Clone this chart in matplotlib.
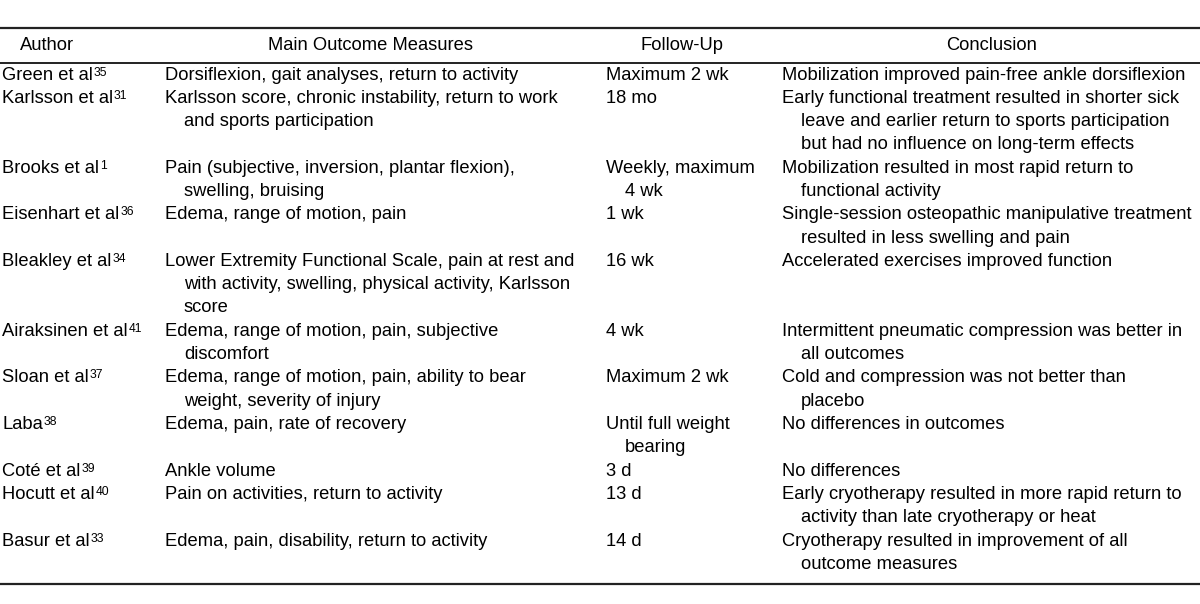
import matplotlib.pyplot as plt

plt.rcParams['font.family'] = ['Liberation Sans', 'DejaVu Sans']

# table content, wrapped lines as they appear in the reference
headers = ["Author", "Main Outcome Measures", "Follow-Up", "Conclusion"]

authors = ["Green et al", "Karlsson et al", "Brooks et al", "Eisenhart et al",
           "Bleakley et al", "Airaksinen et al", "Sloan et al", "Laba",
           "Coté et al", "Hocutt et al", "Basur et al"]
refs = ["35", "31", "1", "36", "34", "41", "37", "38", "39", "40", "33"]

outcomes = [
    ["Dorsiflexion, gait analyses, return to activity"],
    ["Karlsson score, chronic instability, return to work", "and sports participation"],
    ["Pain (subjective, inversion, plantar flexion),", "swelling, bruising"],
    ["Edema, range of motion, pain"],
    ["Lower Extremity Functional Scale, pain at rest and",
     "with activity, swelling, physical activity, Karlsson", "score"],
    ["Edema, range of motion, pain, subjective", "discomfort"],
    ["Edema, range of motion, pain, ability to bear", "weight, severity of injury"],
    ["Edema, pain, rate of recovery"],
    ["Ankle volume"],
    ["Pain on activities, return to activity"],
    ["Edema, pain, disability, return to activity"],
]

followups = [
    ["Maximum 2 wk"],
    ["18 mo"],
    ["Weekly, maximum", "4 wk"],
    ["1 wk"],
    ["16 wk"],
    ["4 wk"],
    ["Maximum 2 wk"],
    ["Until full weight", "bearing"],
    ["3 d"],
    ["13 d"],
    ["14 d"],
]

conclusions = [
    ["Mobilization improved pain-free ankle dorsiflexion"],
    ["Early functional treatment resulted in shorter sick",
     "leave and earlier return to sports participation",
     "but had no influence on long-term effects"],
    ["Mobilization resulted in most rapid return to", "functional activity"],
    ["Single-session osteopathic manipulative treatment",
     "resulted in less swelling and pain"],
    ["Accelerated exercises improved function"],
    ["Intermittent pneumatic compression was better in", "all outcomes"],
    ["Cold and compression was not better than", "placebo"],
    ["No differences in outcomes"],
    ["No differences"],
    ["Early cryotherapy resulted in more rapid return to",
     "activity than late cryotherapy or heat"],
    ["Cryotherapy resulted in improvement of all", "outcome measures"],
]

fig = plt.figure(figsize=(12, 6.04), dpi=100)
ax = fig.add_axes([0, 0, 1, 1])
ax.set_xlim(0, 1200)
ax.set_ylim(604, 0)
ax.axis('off')

fs = 13.2
col_x = [2, 165, 606, 782]
head_x = [47, 370, 682, 992]
indent = 19
pitch = 23.3
y0 = 75
line_col = '#222222'

# rules
for y, lw in [(28, 1.6), (63, 1.4), (584, 1.6)]:
    ax.plot([0, 1200], [y, y], color=line_col, lw=lw, solid_capstyle='butt')

for hx, h in zip(head_x, headers):
    ax.text(hx, 46, h, fontsize=fs, ha='center', va='center')

line = 0
for i in range(len(authors)):
    y = y0 + line * pitch
    t = ax.text(col_x[0], y, authors[i], fontsize=fs, ha='left', va='center')
    ax.annotate(refs[i], xy=(1, 0.97), xycoords=t, xytext=(0.6, 0.3),
                textcoords='offset points', fontsize=fs * 0.66,
                ha='left', va='top')
    n = 1
    for col, cell in zip(col_x[1:], [outcomes[i], followups[i], conclusions[i]]):
        for k, s in enumerate(cell):
            ax.text(col + (indent if k else 0), y + k * pitch, s,
                    fontsize=fs, ha='left', va='center')
        n = max(n, len(cell))
    line += n

fig.savefig('out.png', dpi=100)
